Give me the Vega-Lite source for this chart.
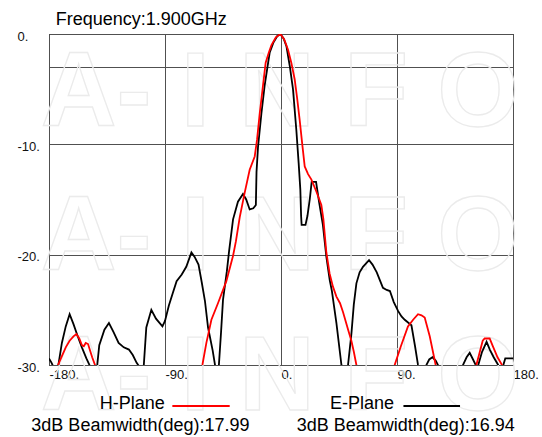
{
  "$schema": "https://vega.github.io/schema/vega-lite/v6.json",
  "width": 464,
  "height": 331,
  "autosize": {"type": "none"},
  "padding": {"left": 49, "top": 34, "right": 29, "bottom": 72},
  "background": "white",
  "config": {
    "font": "Liberation Sans",
    "view": {"stroke": "#000", "strokeWidth": 1},
    "axis": {
      "labelFont": "Liberation Sans",
      "labelFontSize": 13,
      "labelColor": "#111",
      "gridColor": "#505050",
      "gridWidth": 1,
      "gridOpacity": 1,
      "domain": false,
      "ticks": false,
      "tickSize": 0
    },
    "text": {"font": "Liberation Sans", "fontSize": 18, "align": "left", "baseline": "middle", "color": "#000"}
  },
  "datasets": {
    "patterns": [
      {"plane": "E-Plane", "angle": -180, "gain": -29.4},
      {"plane": "E-Plane", "angle": -178, "gain": -29.8},
      {"plane": "E-Plane", "angle": -175, "gain": -30.6},
      {"plane": "E-Plane", "angle": -173, "gain": -30.2},
      {"plane": "E-Plane", "angle": -170, "gain": -28.0},
      {"plane": "E-Plane", "angle": -167, "gain": -26.5},
      {"plane": "E-Plane", "angle": -164, "gain": -25.4},
      {"plane": "E-Plane", "angle": -161, "gain": -26.3},
      {"plane": "E-Plane", "angle": -158, "gain": -27.3},
      {"plane": "E-Plane", "angle": -154.5, "gain": -28.4},
      {"plane": "E-Plane", "angle": -151, "gain": -29.4},
      {"plane": "E-Plane", "angle": -147, "gain": -30.4},
      {"plane": "E-Plane", "angle": -145, "gain": -31},
      {"plane": "E-Plane", "angle": -143, "gain": -30.5},
      {"plane": "E-Plane", "angle": -141, "gain": -28.2},
      {"plane": "E-Plane", "angle": -137, "gain": -26.8},
      {"plane": "E-Plane", "angle": -133.5, "gain": -26.2},
      {"plane": "E-Plane", "angle": -130, "gain": -27.0},
      {"plane": "E-Plane", "angle": -126, "gain": -28.0},
      {"plane": "E-Plane", "angle": -122, "gain": -28.4},
      {"plane": "E-Plane", "angle": -118, "gain": -28.6},
      {"plane": "E-Plane", "angle": -115, "gain": -29.1},
      {"plane": "E-Plane", "angle": -112, "gain": -29.8},
      {"plane": "E-Plane", "angle": -109, "gain": -30.3},
      {"plane": "E-Plane", "angle": -106.5, "gain": -30.1},
      {"plane": "E-Plane", "angle": -104.5, "gain": -26.6},
      {"plane": "E-Plane", "angle": -100.6, "gain": -25.0},
      {"plane": "E-Plane", "angle": -97, "gain": -25.8},
      {"plane": "E-Plane", "angle": -92, "gain": -26.5},
      {"plane": "E-Plane", "angle": -90, "gain": -26.0},
      {"plane": "E-Plane", "angle": -87, "gain": -24.6},
      {"plane": "E-Plane", "angle": -84, "gain": -23.5},
      {"plane": "E-Plane", "angle": -81, "gain": -22.4},
      {"plane": "E-Plane", "angle": -77, "gain": -21.8},
      {"plane": "E-Plane", "angle": -73.5, "gain": -21.1},
      {"plane": "E-Plane", "angle": -69.5, "gain": -19.8},
      {"plane": "E-Plane", "angle": -67, "gain": -20.2},
      {"plane": "E-Plane", "angle": -64, "gain": -20.9},
      {"plane": "E-Plane", "angle": -61.5, "gain": -22.5},
      {"plane": "E-Plane", "angle": -59, "gain": -24.2},
      {"plane": "E-Plane", "angle": -56.6, "gain": -26.6},
      {"plane": "E-Plane", "angle": -53, "gain": -28.7},
      {"plane": "E-Plane", "angle": -50.5, "gain": -30.5},
      {"plane": "E-Plane", "angle": -49, "gain": -31},
      {"plane": "E-Plane", "angle": -48.3, "gain": -30.2},
      {"plane": "E-Plane", "angle": -46.5, "gain": -27},
      {"plane": "E-Plane", "angle": -45, "gain": -24.1},
      {"plane": "E-Plane", "angle": -42, "gain": -21.5},
      {"plane": "E-Plane", "angle": -40.3, "gain": -19.7},
      {"plane": "E-Plane", "angle": -37.2, "gain": -16.8},
      {"plane": "E-Plane", "angle": -33.4, "gain": -15.2},
      {"plane": "E-Plane", "angle": -29.5, "gain": -14.5},
      {"plane": "E-Plane", "angle": -27, "gain": -15.0},
      {"plane": "E-Plane", "angle": -24.3, "gain": -15.9},
      {"plane": "E-Plane", "angle": -21.5, "gain": -15.8},
      {"plane": "E-Plane", "angle": -19.5, "gain": -15.5},
      {"plane": "E-Plane", "angle": -19.0, "gain": -12.5},
      {"plane": "E-Plane", "angle": -17.8, "gain": -10.2},
      {"plane": "E-Plane", "angle": -15.2, "gain": -7.2},
      {"plane": "E-Plane", "angle": -12.6, "gain": -4.6},
      {"plane": "E-Plane", "angle": -10.5, "gain": -3.0},
      {"plane": "E-Plane", "angle": -8.8, "gain": -1.7},
      {"plane": "E-Plane", "angle": -6, "gain": -0.8},
      {"plane": "E-Plane", "angle": -3, "gain": -0.2},
      {"plane": "E-Plane", "angle": -0.5, "gain": 0},
      {"plane": "E-Plane", "angle": 2, "gain": -0.4},
      {"plane": "E-Plane", "angle": 4.2, "gain": -1.1},
      {"plane": "E-Plane", "angle": 6.8, "gain": -2.9},
      {"plane": "E-Plane", "angle": 9.3, "gain": -5.0},
      {"plane": "E-Plane", "angle": 11.9, "gain": -8.7},
      {"plane": "E-Plane", "angle": 13.7, "gain": -11.7},
      {"plane": "E-Plane", "angle": 15, "gain": -14.1},
      {"plane": "E-Plane", "angle": 15.6, "gain": -16.5},
      {"plane": "E-Plane", "angle": 16, "gain": -17.3},
      {"plane": "E-Plane", "angle": 19, "gain": -17.3},
      {"plane": "E-Plane", "angle": 20.5, "gain": -16.5},
      {"plane": "E-Plane", "angle": 22.3, "gain": -15.0},
      {"plane": "E-Plane", "angle": 23.8, "gain": -13.4},
      {"plane": "E-Plane", "angle": 27.2, "gain": -13.4},
      {"plane": "E-Plane", "angle": 29.5, "gain": -15.2},
      {"plane": "E-Plane", "angle": 32.5, "gain": -17.3},
      {"plane": "E-Plane", "angle": 35.2, "gain": -20.2},
      {"plane": "E-Plane", "angle": 37.8, "gain": -22.3},
      {"plane": "E-Plane", "angle": 39.5, "gain": -23.3},
      {"plane": "E-Plane", "angle": 43, "gain": -26.2},
      {"plane": "E-Plane", "angle": 46.9, "gain": -30.0},
      {"plane": "E-Plane", "angle": 49, "gain": -31.5},
      {"plane": "E-Plane", "angle": 51, "gain": -31},
      {"plane": "E-Plane", "angle": 52, "gain": -30.0},
      {"plane": "E-Plane", "angle": 54.6, "gain": -27.2},
      {"plane": "E-Plane", "angle": 56.5, "gain": -24.5},
      {"plane": "E-Plane", "angle": 58.5, "gain": -22.6},
      {"plane": "E-Plane", "angle": 61, "gain": -21.6},
      {"plane": "E-Plane", "angle": 63.6, "gain": -21.1},
      {"plane": "E-Plane", "angle": 68.3, "gain": -20.5},
      {"plane": "E-Plane", "angle": 71, "gain": -20.9},
      {"plane": "E-Plane", "angle": 74.3, "gain": -21.6},
      {"plane": "E-Plane", "angle": 77, "gain": -22.4},
      {"plane": "E-Plane", "angle": 79.1, "gain": -23.0},
      {"plane": "E-Plane", "angle": 82, "gain": -23.2},
      {"plane": "E-Plane", "angle": 84.5, "gain": -23.3},
      {"plane": "E-Plane", "angle": 87.5, "gain": -24.3},
      {"plane": "E-Plane", "angle": 90.8, "gain": -25.1},
      {"plane": "E-Plane", "angle": 93.5, "gain": -25.6},
      {"plane": "E-Plane", "angle": 96, "gain": -25.9},
      {"plane": "E-Plane", "angle": 101.2, "gain": -26.4},
      {"plane": "E-Plane", "angle": 104, "gain": -28.3},
      {"plane": "E-Plane", "angle": 106.3, "gain": -30.0},
      {"plane": "E-Plane", "angle": 108, "gain": -31},
      {"plane": "E-Plane", "angle": 111, "gain": -31},
      {"plane": "E-Plane", "angle": 112.8, "gain": -30.0},
      {"plane": "E-Plane", "angle": 115, "gain": -29.5},
      {"plane": "E-Plane", "angle": 117.5, "gain": -29.3},
      {"plane": "E-Plane", "angle": 120, "gain": -29.6},
      {"plane": "E-Plane", "angle": 121.8, "gain": -30.0},
      {"plane": "E-Plane", "angle": 124, "gain": -31},
      {"plane": "E-Plane", "angle": 139, "gain": -31},
      {"plane": "E-Plane", "angle": 141.2, "gain": -30.0},
      {"plane": "E-Plane", "angle": 144, "gain": -29.3},
      {"plane": "E-Plane", "angle": 146.4, "gain": -28.9},
      {"plane": "E-Plane", "angle": 149, "gain": -29.5},
      {"plane": "E-Plane", "angle": 152.3, "gain": -30.3},
      {"plane": "E-Plane", "angle": 156, "gain": -28.8},
      {"plane": "E-Plane", "angle": 159.5, "gain": -27.9},
      {"plane": "E-Plane", "angle": 162, "gain": -28.6},
      {"plane": "E-Plane", "angle": 165, "gain": -29.3},
      {"plane": "E-Plane", "angle": 168.5, "gain": -30.0},
      {"plane": "E-Plane", "angle": 170.5, "gain": -30.6},
      {"plane": "E-Plane", "angle": 172.5, "gain": -30.0},
      {"plane": "E-Plane", "angle": 174, "gain": -29.4},
      {"plane": "E-Plane", "angle": 180, "gain": -29.4},
      {"plane": "H-Plane", "angle": -180, "gain": -32},
      {"plane": "H-Plane", "angle": -175, "gain": -31},
      {"plane": "H-Plane", "angle": -173, "gain": -30.0},
      {"plane": "H-Plane", "angle": -170, "gain": -29.2},
      {"plane": "H-Plane", "angle": -167, "gain": -28.4},
      {"plane": "H-Plane", "angle": -164, "gain": -27.8},
      {"plane": "H-Plane", "angle": -161, "gain": -27.4},
      {"plane": "H-Plane", "angle": -158.8, "gain": -27.2},
      {"plane": "H-Plane", "angle": -156.5, "gain": -27.6},
      {"plane": "H-Plane", "angle": -154.5, "gain": -28.2},
      {"plane": "H-Plane", "angle": -153, "gain": -28.3},
      {"plane": "H-Plane", "angle": -151.5, "gain": -28.0},
      {"plane": "H-Plane", "angle": -149.7, "gain": -28.1},
      {"plane": "H-Plane", "angle": -148.4, "gain": -28.6},
      {"plane": "H-Plane", "angle": -146.5, "gain": -29.3},
      {"plane": "H-Plane", "angle": -144.3, "gain": -30.0},
      {"plane": "H-Plane", "angle": -142, "gain": -31.5},
      {"plane": "H-Plane", "angle": -64, "gain": -31.5},
      {"plane": "H-Plane", "angle": -61, "gain": -30.0},
      {"plane": "H-Plane", "angle": -57.9, "gain": -28.0},
      {"plane": "H-Plane", "angle": -54, "gain": -25.9},
      {"plane": "H-Plane", "angle": -48.9, "gain": -24.4},
      {"plane": "H-Plane", "angle": -42.4, "gain": -22.4},
      {"plane": "H-Plane", "angle": -37.2, "gain": -20.1},
      {"plane": "H-Plane", "angle": -35, "gain": -18.8},
      {"plane": "H-Plane", "angle": -32, "gain": -16.6},
      {"plane": "H-Plane", "angle": -28.2, "gain": -14.4},
      {"plane": "H-Plane", "angle": -24.3, "gain": -12.3},
      {"plane": "H-Plane", "angle": -20.4, "gain": -11.1},
      {"plane": "H-Plane", "angle": -18.6, "gain": -9.6},
      {"plane": "H-Plane", "angle": -16.5, "gain": -7.2},
      {"plane": "H-Plane", "angle": -14.5, "gain": -5.2},
      {"plane": "H-Plane", "angle": -11.9, "gain": -2.6},
      {"plane": "H-Plane", "angle": -9.5, "gain": -1.7},
      {"plane": "H-Plane", "angle": -7.4, "gain": -1.0},
      {"plane": "H-Plane", "angle": -4, "gain": -0.3},
      {"plane": "H-Plane", "angle": -0.5, "gain": 0},
      {"plane": "H-Plane", "angle": 2.5, "gain": -0.5},
      {"plane": "H-Plane", "angle": 5.4, "gain": -1.4},
      {"plane": "H-Plane", "angle": 8, "gain": -2.6},
      {"plane": "H-Plane", "angle": 10.6, "gain": -4.1},
      {"plane": "H-Plane", "angle": 12.5, "gain": -5.8},
      {"plane": "H-Plane", "angle": 14.5, "gain": -7.8},
      {"plane": "H-Plane", "angle": 16.5, "gain": -10.0},
      {"plane": "H-Plane", "angle": 18.4, "gain": -12.0},
      {"plane": "H-Plane", "angle": 21, "gain": -12.7},
      {"plane": "H-Plane", "angle": 23.6, "gain": -13.2},
      {"plane": "H-Plane", "angle": 27.5, "gain": -14.3},
      {"plane": "H-Plane", "angle": 31.3, "gain": -15.5},
      {"plane": "H-Plane", "angle": 32.9, "gain": -16.8},
      {"plane": "H-Plane", "angle": 35.2, "gain": -19.8},
      {"plane": "H-Plane", "angle": 37.7, "gain": -21.7},
      {"plane": "H-Plane", "angle": 40.3, "gain": -22.9},
      {"plane": "H-Plane", "angle": 43, "gain": -23.8},
      {"plane": "H-Plane", "angle": 45.8, "gain": -24.4},
      {"plane": "H-Plane", "angle": 48.1, "gain": -25.2},
      {"plane": "H-Plane", "angle": 52.3, "gain": -26.9},
      {"plane": "H-Plane", "angle": 54.6, "gain": -27.8},
      {"plane": "H-Plane", "angle": 56.5, "gain": -28.8},
      {"plane": "H-Plane", "angle": 58.5, "gain": -30.0},
      {"plane": "H-Plane", "angle": 61, "gain": -31.5},
      {"plane": "H-Plane", "angle": 86, "gain": -31.5},
      {"plane": "H-Plane", "angle": 88.2, "gain": -30.0},
      {"plane": "H-Plane", "angle": 93, "gain": -28.3},
      {"plane": "H-Plane", "angle": 98.5, "gain": -26.5},
      {"plane": "H-Plane", "angle": 102.5, "gain": -25.9},
      {"plane": "H-Plane", "angle": 106.3, "gain": -25.4},
      {"plane": "H-Plane", "angle": 109, "gain": -25.5},
      {"plane": "H-Plane", "angle": 111.5, "gain": -25.7},
      {"plane": "H-Plane", "angle": 115.4, "gain": -27.4},
      {"plane": "H-Plane", "angle": 120, "gain": -30.0},
      {"plane": "H-Plane", "angle": 122, "gain": -31.5},
      {"plane": "H-Plane", "angle": 149.5, "gain": -31.5},
      {"plane": "H-Plane", "angle": 151.6, "gain": -30.0},
      {"plane": "H-Plane", "angle": 156.5, "gain": -27.8},
      {"plane": "H-Plane", "angle": 158, "gain": -27.6},
      {"plane": "H-Plane", "angle": 161.9, "gain": -27.6},
      {"plane": "H-Plane", "angle": 164, "gain": -28.2},
      {"plane": "H-Plane", "angle": 168, "gain": -29.3},
      {"plane": "H-Plane", "angle": 171.5, "gain": -30.0},
      {"plane": "H-Plane", "angle": 174, "gain": -31.5},
      {"plane": "H-Plane", "angle": 180, "gain": -31.5}
    ]
  },
  "layer": [
    {
      "data": {"values": [{"mark": "A- I N F O", "row": "1"}]},
      "mark": {"type": "text", "fontWeight": "bold", "fontSize": 105, "baseline": "alphabetic", "fillOpacity": 0, "stroke": "#ebebeb", "strokeWidth": 1.3},
      "encoding": {
        "x": {"datum": -186.4, "type": "quantitative", "scale": {"domain": [-180, 180], "nice": false, "zero": false}, "axis": {"values": [-180, -90, 0, 90, 180], "grid": true, "title": null, "labelAlign": "left", "labelBaseline": "middle", "labelPadding": 9, "labelFlush": false, "labelOverlap": false, "labelBound": false, "labelExpr": "datum.value + '.'"}},
        "y": {"datum": -8.38, "type": "quantitative", "scale": {"domain": [-30, 0], "nice": false, "zero": false}, "axis": {"values": [-30, -20, -10, -3, 0], "grid": true, "title": null, "labelAlign": "left", "labelBaseline": "middle", "labelPadding": 32, "labelOffset": 2, "labelFlush": false, "labelOverlap": false, "labelBound": false, "labelExpr": "datum.value == -3 ? '' : datum.value + '.'"}},
        "text": {"field": "mark"}
      }
    },
    {
      "data": {"values": [{"mark": "A- I N F O", "row": "2"}]},
      "mark": {"type": "text", "fontWeight": "bold", "fontSize": 105, "baseline": "alphabetic", "fillOpacity": 0, "stroke": "#ebebeb", "strokeWidth": 1.3},
      "encoding": {
        "x": {"datum": -186.4, "type": "quantitative", "axis": {"values": [-180, -90, 0, 90, 180], "grid": true, "title": null, "labelAlign": "left", "labelBaseline": "middle", "labelPadding": 9, "labelFlush": false, "labelOverlap": false, "labelBound": false, "labelExpr": "datum.value + '.'"}},
        "y": {"datum": -21.38, "type": "quantitative", "axis": {"values": [-30, -20, -10, -3, 0], "grid": true, "title": null, "labelAlign": "left", "labelBaseline": "middle", "labelPadding": 32, "labelOffset": 2, "labelFlush": false, "labelOverlap": false, "labelBound": false, "labelExpr": "datum.value == -3 ? '' : datum.value + '.'"}},
        "text": {"field": "mark"}
      }
    },
    {
      "data": {"values": [{"mark": "A- I N F O", "row": "3"}]},
      "mark": {"type": "text", "fontWeight": "bold", "fontSize": 105, "baseline": "alphabetic", "fillOpacity": 0, "stroke": "#ebebeb", "strokeWidth": 1.3},
      "encoding": {
        "x": {"datum": -186.4, "type": "quantitative", "axis": {"values": [-180, -90, 0, 90, 180], "grid": true, "title": null, "labelAlign": "left", "labelBaseline": "middle", "labelPadding": 9, "labelFlush": false, "labelOverlap": false, "labelBound": false, "labelExpr": "datum.value + '.'"}},
        "y": {"datum": -34.05, "type": "quantitative", "axis": {"values": [-30, -20, -10, -3, 0], "grid": true, "title": null, "labelAlign": "left", "labelBaseline": "middle", "labelPadding": 32, "labelOffset": 2, "labelFlush": false, "labelOverlap": false, "labelBound": false, "labelExpr": "datum.value == -3 ? '' : datum.value + '.'"}},
        "text": {"field": "mark"}
      }
    },
    {
      "data": {"name": "patterns"},
      "transform": [{"filter": "datum.plane === 'E-Plane'"}],
      "mark": {"type": "line", "clip": true, "color": "#000000", "strokeWidth": 1.8},
      "encoding": {
        "x": {"field": "angle", "type": "quantitative", "axis": {"values": [-180, -90, 0, 90, 180], "grid": true, "title": null, "labelAlign": "left", "labelBaseline": "middle", "labelPadding": 9, "labelFlush": false, "labelOverlap": false, "labelBound": false, "labelExpr": "datum.value + '.'"}},
        "y": {"field": "gain", "type": "quantitative", "axis": {"values": [-30, -20, -10, -3, 0], "grid": true, "title": null, "labelAlign": "left", "labelBaseline": "middle", "labelPadding": 32, "labelOffset": 2, "labelFlush": false, "labelOverlap": false, "labelBound": false, "labelExpr": "datum.value == -3 ? '' : datum.value + '.'"}}
      }
    },
    {
      "data": {"name": "patterns"},
      "transform": [{"filter": "datum.plane === 'H-Plane'"}],
      "mark": {"type": "line", "clip": true, "color": "#ff0000", "strokeWidth": 1.8},
      "encoding": {
        "x": {"field": "angle", "type": "quantitative", "axis": {"values": [-180, -90, 0, 90, 180], "grid": true, "title": null, "labelAlign": "left", "labelBaseline": "middle", "labelPadding": 9, "labelFlush": false, "labelOverlap": false, "labelBound": false, "labelExpr": "datum.value + '.'"}},
        "y": {"field": "gain", "type": "quantitative", "axis": {"values": [-30, -20, -10, -3, 0], "grid": true, "title": null, "labelAlign": "left", "labelBaseline": "middle", "labelPadding": 32, "labelOffset": 2, "labelFlush": false, "labelOverlap": false, "labelBound": false, "labelExpr": "datum.value == -3 ? '' : datum.value + '.'"}}
      }
    },
    {
      "data": {"values": [{"label": "Frequency:1.900GHz"}]},
      "mark": {"type": "text"},
      "encoding": {
        "x": {"datum": -174.8, "type": "quantitative", "axis": {"values": [-180, -90, 0, 90, 180], "grid": true, "title": null, "labelAlign": "left", "labelBaseline": "middle", "labelPadding": 9, "labelFlush": false, "labelOverlap": false, "labelBound": false, "labelExpr": "datum.value + '.'"}},
        "y": {"datum": 1.25, "type": "quantitative", "axis": {"values": [-30, -20, -10, -3, 0], "grid": true, "title": null, "labelAlign": "left", "labelBaseline": "middle", "labelPadding": 32, "labelOffset": 2, "labelFlush": false, "labelOverlap": false, "labelBound": false, "labelExpr": "datum.value == -3 ? '' : datum.value + '.'"}},
        "text": {"field": "label"}
      }
    },
    {
      "data": {"values": [{"label": "H-Plane"}]},
      "mark": {"type": "text"},
      "encoding": {
        "x": {"datum": -140.7, "type": "quantitative", "axis": {"values": [-180, -90, 0, 90, 180], "grid": true, "title": null, "labelAlign": "left", "labelBaseline": "middle", "labelPadding": 9, "labelFlush": false, "labelOverlap": false, "labelBound": false, "labelExpr": "datum.value + '.'"}},
        "y": {"datum": -33.54, "type": "quantitative", "axis": {"values": [-30, -20, -10, -3, 0], "grid": true, "title": null, "labelAlign": "left", "labelBaseline": "middle", "labelPadding": 32, "labelOffset": 2, "labelFlush": false, "labelOverlap": false, "labelBound": false, "labelExpr": "datum.value == -3 ? '' : datum.value + '.'"}},
        "text": {"field": "label"}
      }
    },
    {
      "data": {"values": [{"label": "H-Plane"}]},
      "mark": {"type": "rule", "color": "#ff0000", "strokeWidth": 2},
      "encoding": {
        "x": {"datum": -84.3, "type": "quantitative", "axis": {"values": [-180, -90, 0, 90, 180], "grid": true, "title": null, "labelAlign": "left", "labelBaseline": "middle", "labelPadding": 9, "labelFlush": false, "labelOverlap": false, "labelBound": false, "labelExpr": "datum.value + '.'"}},
        "x2": {"datum": -39.8},
        "y": {"datum": -33.72, "type": "quantitative", "axis": {"values": [-30, -20, -10, -3, 0], "grid": true, "title": null, "labelAlign": "left", "labelBaseline": "middle", "labelPadding": 32, "labelOffset": 2, "labelFlush": false, "labelOverlap": false, "labelBound": false, "labelExpr": "datum.value == -3 ? '' : datum.value + '.'"}}
      }
    },
    {
      "data": {"values": [{"label": "E-Plane"}]},
      "mark": {"type": "text"},
      "encoding": {
        "x": {"datum": 38.0, "type": "quantitative", "axis": {"values": [-180, -90, 0, 90, 180], "grid": true, "title": null, "labelAlign": "left", "labelBaseline": "middle", "labelPadding": 9, "labelFlush": false, "labelOverlap": false, "labelBound": false, "labelExpr": "datum.value + '.'"}},
        "y": {"datum": -33.54, "type": "quantitative", "axis": {"values": [-30, -20, -10, -3, 0], "grid": true, "title": null, "labelAlign": "left", "labelBaseline": "middle", "labelPadding": 32, "labelOffset": 2, "labelFlush": false, "labelOverlap": false, "labelBound": false, "labelExpr": "datum.value == -3 ? '' : datum.value + '.'"}},
        "text": {"field": "label"}
      }
    },
    {
      "data": {"values": [{"label": "E-Plane"}]},
      "mark": {"type": "rule", "color": "#000000", "strokeWidth": 2},
      "encoding": {
        "x": {"datum": 95.0, "type": "quantitative", "axis": {"values": [-180, -90, 0, 90, 180], "grid": true, "title": null, "labelAlign": "left", "labelBaseline": "middle", "labelPadding": 9, "labelFlush": false, "labelOverlap": false, "labelBound": false, "labelExpr": "datum.value + '.'"}},
        "x2": {"datum": 138.9},
        "y": {"datum": -33.72, "type": "quantitative", "axis": {"values": [-30, -20, -10, -3, 0], "grid": true, "title": null, "labelAlign": "left", "labelBaseline": "middle", "labelPadding": 32, "labelOffset": 2, "labelFlush": false, "labelOverlap": false, "labelBound": false, "labelExpr": "datum.value == -3 ? '' : datum.value + '.'"}}
      }
    },
    {
      "data": {"values": [{"label": "3dB Beamwidth(deg):17.99"}]},
      "mark": {"type": "text"},
      "encoding": {
        "x": {"datum": -193.7, "type": "quantitative", "axis": {"values": [-180, -90, 0, 90, 180], "grid": true, "title": null, "labelAlign": "left", "labelBaseline": "middle", "labelPadding": 9, "labelFlush": false, "labelOverlap": false, "labelBound": false, "labelExpr": "datum.value + '.'"}},
        "y": {"datum": -35.53, "type": "quantitative", "axis": {"values": [-30, -20, -10, -3, 0], "grid": true, "title": null, "labelAlign": "left", "labelBaseline": "middle", "labelPadding": 32, "labelOffset": 2, "labelFlush": false, "labelOverlap": false, "labelBound": false, "labelExpr": "datum.value == -3 ? '' : datum.value + '.'"}},
        "text": {"field": "label"}
      }
    },
    {
      "data": {"values": [{"label": "3dB Beamwidth(deg):16.94"}]},
      "mark": {"type": "text"},
      "encoding": {
        "x": {"datum": 12.2, "type": "quantitative", "axis": {"values": [-180, -90, 0, 90, 180], "grid": true, "title": null, "labelAlign": "left", "labelBaseline": "middle", "labelPadding": 9, "labelFlush": false, "labelOverlap": false, "labelBound": false, "labelExpr": "datum.value + '.'"}},
        "y": {"datum": -35.53, "type": "quantitative", "axis": {"values": [-30, -20, -10, -3, 0], "grid": true, "title": null, "labelAlign": "left", "labelBaseline": "middle", "labelPadding": 32, "labelOffset": 2, "labelFlush": false, "labelOverlap": false, "labelBound": false, "labelExpr": "datum.value == -3 ? '' : datum.value + '.'"}},
        "text": {"field": "label"}
      }
    }
  ]
}
